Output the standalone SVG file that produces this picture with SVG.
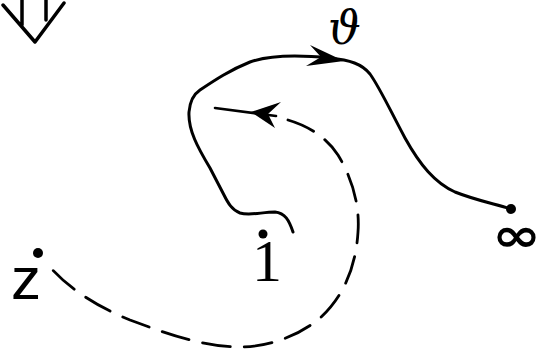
<svg xmlns="http://www.w3.org/2000/svg" width="544" height="353" viewBox="0 0 544 353">
<style>
.s{fill:none;stroke:#000;stroke-width:3;stroke-linecap:round;stroke-linejoin:round}
.d{fill:none;stroke:#000;stroke-width:2.8;stroke-linecap:round;stroke-dasharray:28 14}
.t{fill:#000}
</style>
<rect width="544" height="353" fill="#fff"/>
<g id="implies">
<path class="s" style="stroke-width:3.5" d="M22,0 L22,25 M46,0 L46,20 M3,5 L35,42 L64,3"/>
</g>
<g id="connectors">
<g id="path-v">
<path class="s" d="M293,232 C289,220 285,213 275,212 C262,212 250,216 240,213 C232,210 228,203 224,195 L210,168 C198,148 188,130 189,112 C190,100 194,94 200,90 C215,80 230,70 250,62 C270,55 300,55 330,58 C350,60 362,64 370,74 C380,88 390,110 405,138 C420,165 435,183 455,192 C475,200 495,204 511,209"/>
<path class="t" d="M344,61 L310,45 L321,57 L306,66 Z"/>
</g>
<g id="path-dashed">
<path class="s" style="stroke-width:2.6" d="M215,108 L276,116"/>
<path class="t" d="M251,112 L281,102 L268,114 L275,128 Z"/>
<path class="d" d="M288,120 C305,125 325,135 338,155 C352,178 360,205 358,232 C356,265 345,295 320,318 C300,335 270,347 240,347 C205,347 170,335 130,320 C100,308 70,290 50,267"/>
</g>
</g>
<g id="node-z">
<circle cx="38" cy="253" r="5"/>
<text x="11" y="299" font-family="Liberation Sans, sans-serif" font-size="60">z</text>
</g>
<g id="node-1">
<circle cx="263" cy="234" r="4.5"/>
<text x="252" y="281" font-family="Liberation Serif, serif" font-size="60">1</text>
</g>
<g id="node-inf">
<circle cx="511" cy="209" r="5"/>
<text x="492" y="251" font-family="DejaVu Sans, sans-serif" font-weight="bold" font-size="46" textLength="49" lengthAdjust="spacingAndGlyphs">∞</text>
</g>
<g id="label-v">
<text x="328" y="44" font-family="DejaVu Serif, serif" font-style="italic" font-size="46">ϑ</text>
</g>
</svg>
